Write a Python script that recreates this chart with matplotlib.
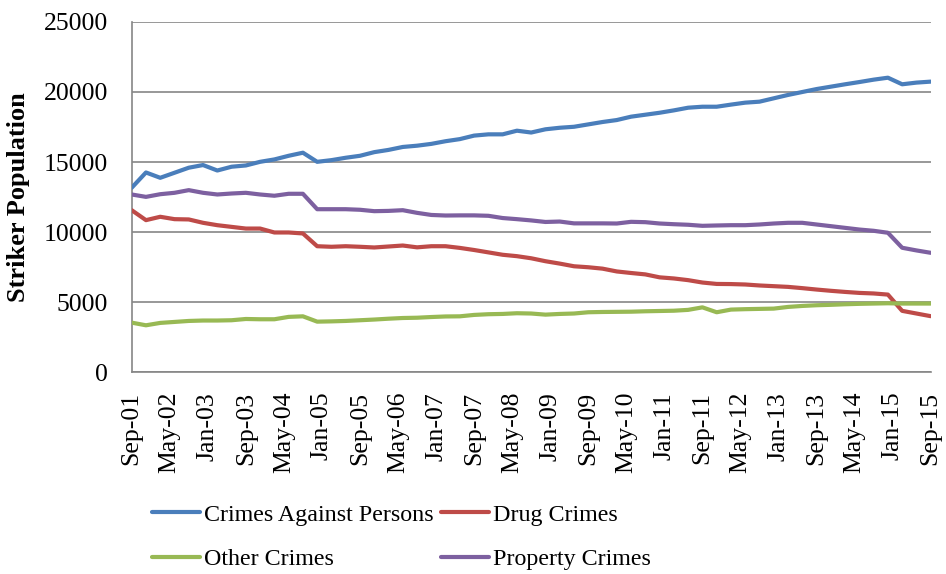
import numpy as np
import matplotlib
matplotlib.use("Agg")
import matplotlib.pyplot as plt

plt.rcParams['font.family'] = ['Liberation Serif', 'DejaVu Serif']

# Quarterly observations, Sep-01 .. Sep-15 (57 points)
months_from_start = np.arange(0, 169, 3)

persons = [13170, 14260, 13880, 14240, 14600, 14790, 14400, 14670, 14760, 15020,
           15190, 15450, 15670, 15020, 15140, 15310, 15450, 15710, 15870, 16080,
           16170, 16300, 16490, 16640, 16890, 16980, 16980, 17240, 17110, 17340,
           17450, 17520, 17690, 17860, 18000, 18240, 18380, 18520, 18690, 18880,
           18950, 18950, 19100, 19240, 19310, 19550, 19790, 20000, 20210, 20380,
           20550, 20710, 20880, 21020, 20550, 20670, 20740]
drug = [11570, 10860, 11100, 10930, 10910, 10670, 10500, 10380, 10260, 10260,
        9980, 9980, 9910, 9000, 8960, 9000, 8960, 8910, 8980, 9050,
        8920, 9000, 9000, 8880, 8730, 8560, 8390, 8290, 8140, 7930,
        7760, 7570, 7500, 7400, 7200, 7090, 6990, 6780, 6700, 6580,
        6410, 6310, 6300, 6270, 6200, 6150, 6100, 6010, 5910, 5820,
        5740, 5670, 5630, 5550, 4390, 4200, 4010]
other = [3550, 3360, 3530, 3600, 3670, 3700, 3700, 3720, 3810, 3790,
         3790, 3960, 4000, 3620, 3640, 3670, 3720, 3770, 3830, 3880,
         3900, 3950, 3990, 4000, 4100, 4150, 4170, 4220, 4200, 4120,
         4170, 4200, 4290, 4310, 4320, 4330, 4360, 4380, 4400, 4460,
         4640, 4290, 4480, 4510, 4530, 4550, 4670, 4740, 4790, 4820,
         4860, 4890, 4910, 4930, 4910, 4910, 4910]
prop = [12690, 12520, 12710, 12810, 13000, 12810, 12690, 12760, 12810, 12690,
        12600, 12740, 12740, 11640, 11640, 11640, 11600, 11500, 11520, 11570,
        11380, 11230, 11190, 11200, 11200, 11170, 11010, 10930, 10840, 10730,
        10760, 10630, 10630, 10630, 10620, 10740, 10715, 10620, 10570, 10530,
        10455, 10480, 10500, 10500, 10550, 10620, 10670, 10670, 10550, 10430,
        10310, 10190, 10100, 9960, 8890, 8700, 8530]

tick_labels = ['Sep-01', 'May-02', 'Jan-03', 'Sep-03', 'May-04', 'Jan-05', 'Sep-05',
               'May-06', 'Jan-07', 'Sep-07', 'May-08', 'Jan-09', 'Sep-09', 'May-10',
               'Jan-11', 'Sep-11', 'May-12', 'Jan-13', 'Sep-13', 'May-14', 'Jan-15',
               'Sep-15']
tick_months = np.arange(0, 169, 8)

series_names = ['Crimes Against Persons', 'Drug Crimes', 'Other Crimes', 'Property Crimes']
colors = ['#4A7EBB', '#BE4B48', '#98B954', '#7D60A0']

fig = plt.figure(figsize=(9.46, 5.74), dpi=100)
ax = fig.add_axes([131.7/946, 1-372.4/574, (930.7-131.7)/946, (372.4-21.9)/574])

lines = {}
for name, vals, c in zip(series_names, [persons, drug, other, prop], colors):
    ln, = ax.plot(months_from_start, vals, color=c, lw=3.0,
                  solid_capstyle='round', solid_joinstyle='round', label=name, zorder=3)
    lines[name] = ln

ax.set_xlim(0, 168)
ax.set_ylim(0, 25000)
ax.set_yticks(np.arange(0, 25001, 5000))
ax.set_xticks(tick_months)
ax.set_xticklabels(tick_labels, rotation=90, fontsize=18.5)
ax.tick_params(axis='y', labelsize=18.5, length=0, pad=17)
ax.tick_params(axis='x', length=0, pad=14)
ax.grid(axis='y', color='#868686', lw=1.2, zorder=0)
ax.set_axisbelow(True)
for s in ['top', 'right']:
    ax.spines[s].set_visible(False)
for s in ['left', 'bottom']:
    ax.spines[s].set_color('#868686')
    ax.spines[s].set_linewidth(1.2)

fig.text(19/946, 1-197/574, 'Striker Population', rotation=90, fontsize=19,
         fontweight='bold', ha='center', va='center')

order = ['Crimes Against Persons', 'Other Crimes', 'Drug Crimes', 'Property Crimes']
fig.legend([lines[n] for n in order], order, loc='upper left',
           bbox_to_anchor=(152/946, 1-504/574), ncol=2, frameon=False, fontsize=17.3,
           borderpad=0, borderaxespad=0, handlelength=2.0, handletextpad=0.17,
           columnspacing=0.3, labelspacing=0.95)

fig.savefig('out.png', dpi=100)
